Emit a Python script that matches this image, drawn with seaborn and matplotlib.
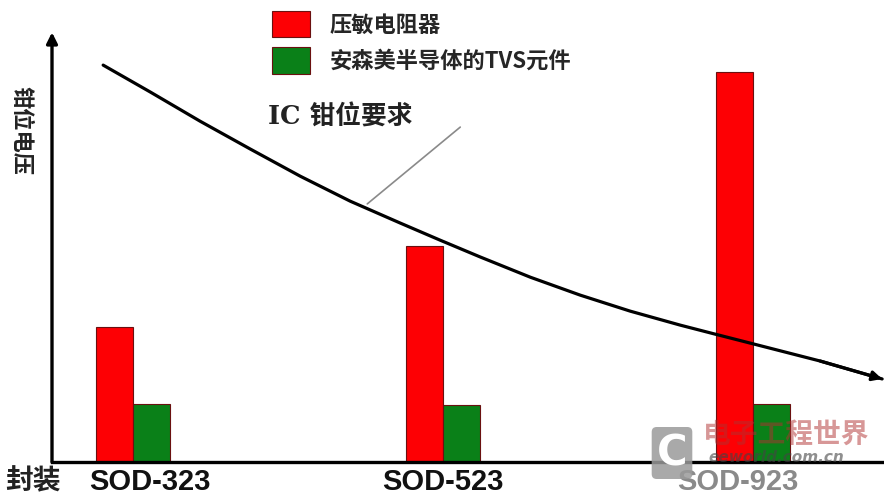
import matplotlib
matplotlib.use("Agg")
import matplotlib.pyplot as plt
import matplotlib.transforms as mtransforms
from matplotlib.patches import Patch
import seaborn as sns
import pandas as pd

# ---- data ----
categories = ["SOD-323", "SOD-523", "SOD-923"]
series_names = ["压敏电阻器", "安森美半导体的TVS元件"]
varistor = [3.45, 5.55, 10.0]
tvs = [1.48, 1.47, 1.49]
curve_x = [-0.097, 0.055, 0.216, 0.377, 0.539, 0.700, 0.861, 0.990, 1.119,
           1.281, 1.442, 1.603, 1.765, 1.877, 2.000, 2.216, 2.416]
curve_y = [10.18, 9.49, 8.74, 8.03, 7.33, 6.69, 6.13, 5.69, 5.26,
           4.74, 4.28, 3.87, 3.51, 3.28, 3.03, 2.59, 2.13]
colors = ["#fd0004", "#0a8018"]

df = pd.DataFrame({
    "pkg": categories * 2,
    "series": [series_names[0]] * 3 + [series_names[1]] * 3,
    "v": varistor + tvs,
})

sns.set_style("white")
plt.rcParams["font.family"] = ["Noto Sans CJK SC", "DejaVu Sans"]

W, H = 884, 495
fig = plt.figure(figsize=(W / 100, H / 100), dpi=100)
ax = fig.add_axes([52 / W, (H - 462) / H, (W - 52) / W, 462 / H])

sns.barplot(data=df, x="pkg", y="v", hue="series", order=categories,
            hue_order=series_names, palette=colors, saturation=1,
            width=0.24, gap=0, edgecolor="#6a1010", linewidth=0.8,
            legend=False, ax=ax)

sns.lineplot(x=curve_x, y=curve_y, color="black", linewidth=2.3, ax=ax)
ax.annotate("", xy=(curve_x[-1], curve_y[-1]), xytext=(curve_x[-2], curve_y[-2]),
            arrowprops=dict(arrowstyle="-|>", color="black", lw=2.3,
                            mutation_scale=14, shrinkA=0, shrinkB=0))

ax.set_xlim(-0.262, 2.422)
ax.set_ylim(0, 11.85)
ax.set_xlabel("")
ax.set_ylabel("")
ax.set_yticks([])
ax.tick_params(axis="x", length=0, pad=4)
ax.set_xticks(range(3))
ax.set_xticklabels(categories, fontsize=21, fontweight="bold",
                   family=["Liberation Sans", "DejaVu Sans"], color="#111111")
labels = ax.get_xticklabels()
labels[2].set_color("#8a8a8a")
for lab, dx in zip(labels, [17, 0, -15]):
    lab.set_transform(lab.get_transform() +
                      mtransforms.ScaledTranslation(dx / 100, 0, fig.dpi_scale_trans))
for s in ["top", "right", "left"]:
    ax.spines[s].set_visible(False)
ax.spines["bottom"].set_linewidth(2.4)
ax.spines["bottom"].set_color("black")

# y axis with arrow
ax.annotate("", xy=(0, 0.93), xytext=(0, 0), xycoords="axes fraction",
            arrowprops=dict(arrowstyle="-|>", color="black", lw=2.4,
                            mutation_scale=16, shrinkA=0, shrinkB=0),
            annotation_clip=False)

# annotation for IC clamp requirement
ax.text(0.435, 8.85, "IC 钳位要求", fontsize=18.5, fontweight="bold",
        family=["DejaVu Serif", "Noto Sans CJK SC"], color="#222222",
        ha="left", va="center")
ax.plot([1.055, 0.755], [8.59, 6.62], color="#8a8a8a", lw=1.2)

# legend
handles = [Patch(facecolor=c, edgecolor="#6a1010", linewidth=0.8) for c in colors]
fig.legend(handles, series_names, loc="upper left",
           bbox_to_anchor=(272 / W, 1 - 11 / H), frameon=False,
           handlelength=1.71, handleheight=1.45,
           handletextpad=0.9, labelspacing=0.45, borderpad=0, borderaxespad=0,
           prop={"weight": "bold", "size": 16})

# axis titles
fig.text(21 / W, 1 - 130 / H, "钳位电压", rotation=-90, fontsize=16,
         fontweight="bold", color="#222222", ha="center", va="center")
fig.text(5 / W, 1 - 481 / H, "封装", fontsize=20, fontweight="bold",
         color="#222222", ha="left", va="center")

# watermark
fig.text(672 / W, 1 - 453 / H, "C", fontsize=30, fontweight="bold",
         color="white", ha="center", va="center", family=["DejaVu Sans"],
         bbox=dict(boxstyle="round,pad=0.12", facecolor="#9a9a9a",
                   edgecolor="none", alpha=0.85))
fig.text(703 / W, 1 - 435 / H, "电子工程世界", fontsize=20, fontweight="bold",
         color="#b03030", alpha=0.5, ha="left", va="center")
fig.text(708 / W, 1 - 457 / H, "eeworld.com.cn", fontsize=11, fontweight="bold",
         style="italic", color="#444444", alpha=0.6, ha="left", va="center",
         family=["DejaVu Sans"])

fig.savefig("out.png", dpi=100)
